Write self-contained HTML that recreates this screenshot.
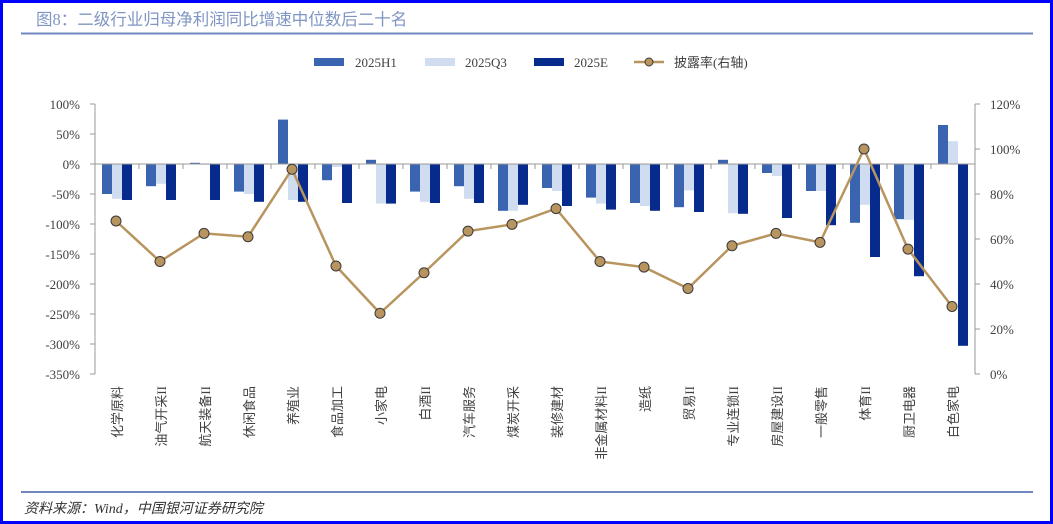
<!DOCTYPE html>
<html><head><meta charset="utf-8"><style>
body{margin:0;width:1053px;height:524px;overflow:hidden;background:#fff}
svg{display:block}
text{font-family:"Liberation Serif","Noto Serif CJK SC",serif;fill:#404040}
.cj{font-family:"Liberation Serif","Noto Sans CJK SC",sans-serif}
</style></head><body>
<svg width="1053" height="524" viewBox="0 0 1053 524" xmlns="http://www.w3.org/2000/svg">
<rect x="1.5" y="1.5" width="1050" height="521" fill="#fff" stroke="#0000ff" stroke-width="3"/>
<text x="36" y="25" class="cj" font-size="16.5" style="fill:#7f96c3">图8：二级行业归母净利润同比增速中位数后二十名</text>
<line x1="21" y1="33.5" x2="1033" y2="33.5" stroke="#7088bf" stroke-width="2"/>
<line x1="21" y1="492" x2="1033" y2="492" stroke="#7088bf" stroke-width="2"/>
<text x="24" y="513" class="cj" font-size="14" font-style="italic" style="fill:#333">资料来源：Wind，中国银河证券研究院</text>
<!-- legend -->
<rect x="314" y="58" width="30" height="8" fill="#3a64b0"/><text x="355" y="67" font-size="13">2025H1</text>
<rect x="425" y="58" width="30" height="8" fill="#d0dcf0"/><text x="465" y="67" font-size="13">2025Q3</text>
<rect x="534" y="58" width="30" height="8" fill="#062b8c"/><text x="574" y="67" font-size="13">2025E</text>
<line x1="634" y1="62" x2="664" y2="62" stroke="#b8955f" stroke-width="2.5"/><circle cx="649" cy="62" r="4" fill="#b8955f" stroke="#3a3a3a" stroke-width="1"/>
<text x="674" y="67" class="cj" font-size="13">披露率(右轴)</text>
<g id="axes" stroke="#999" stroke-width="1" fill="none">
<line x1="95" y1="104" x2="95" y2="374"/>
<line x1="975" y1="104" x2="975" y2="374"/>
</g>
<g id="content"></g>
</svg>
<script>
const NS="http://www.w3.org/2000/svg";
const svg=document.querySelector('svg');
const g=document.getElementById('content');
function el(t,a,p){const e=document.createElementNS(NS,t);for(const k in a)e.setAttribute(k,a[k]);(p||g).appendChild(e);return e;}
const cats=["化学原料","油气开采II","航天装备II","休闲食品","养殖业","食品加工","小家电","白酒II","汽车服务","煤炭开采","装修建材","非金属材料II","造纸","贸易II","专业连锁II","房屋建设II","一般零售","体育II","厨卫电器","白色家电"];
const h1=[-50,-37,2,-46,74,-27,7,-46,-37,-78,-40,-56,-65,-72,7,-15,-45,-98,-92,65];
const q3=[-58,-33,0,-50,-60,-5,-66,-63,-58,-78,-45,-66,-70,-44,-82,-20,-45,-68,-93,38];
const ee=[-60,-60,-60,-63,-63,-65,-66,-65,-65,-68,-70,-76,-78,-80,-83,-90,-102,-155,-187,-303];
const ln=[68,50,62.5,61,91,48,27,45,63.5,66.5,73.5,50,47.5,38,57,62.5,58.5,100,55.5,30];
const yL=v=>164-v*0.6, yR=v=>374-v*2.25;
// left ticks
for(let i=0;i<10;i++){const v=100-50*i,y=yL(v);el('line',{x1:90,y1:y,x2:95,y2:y,stroke:'#999'});const t=el('text',{x:80,y:y+5,'font-size':13,'text-anchor':'end'});t.textContent=v+'%';}
for(let i=0;i<7;i++){const v=20*i,y=yR(v);el('line',{x1:975,y1:y,x2:980,y2:y,stroke:'#999'});const t=el('text',{x:990,y:y+5,'font-size':13});t.textContent=v+'%';}
const cols=["#3a64b0","#d0dcf0","#062b8c"];
cats.forEach((c,i)=>{const cx=117+44*i;[h1,q3,ee].forEach((arr,j)=>{const v=arr[i];const x=cx-15+10*j;const y0=yL(Math.max(v,0)),y1=yL(Math.min(v,0));el('rect',{x:x,y:y0,width:10,height:Math.max(y1-y0,0.8),fill:cols[j]});});
const t=el('text',{transform:`translate(${cx+5},386) rotate(-90)`,'font-size':13,'text-anchor':'end','class':'cj'});t.textContent=c;});
el('line',{x1:95,y1:164,x2:975,y2:164,stroke:'#999'});
for(let i=0;i<=20;i++){const x=95+44*i;el('line',{x1:x,y1:164,x2:x,y2:169,stroke:'#999'});}
el('polyline',{points:ln.map((v,i)=>(116+44*i)+','+yR(v)).join(' '),fill:'none',stroke:'#b8955f','stroke-width':2.5});
ln.forEach((v,i)=>el('circle',{cx:116+44*i,cy:yR(v),r:5,fill:'#b8955f',stroke:'#3a3a3a','stroke-width':1}));
</script>
</body></html>
